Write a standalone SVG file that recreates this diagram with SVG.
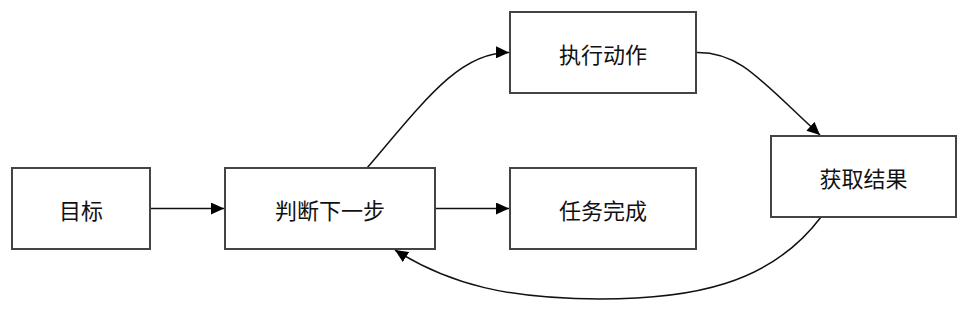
<svg xmlns="http://www.w3.org/2000/svg" width="969" height="313" viewBox="0 0 969 313">
<style>
.node rect{fill:#fff;stroke:#444;stroke-width:2}
.node text{font-family:"Noto Sans CJK SC","Noto Sans",sans-serif;font-size:22px;fill:#111;text-anchor:middle;dominant-baseline:central}
.edge{fill:none;stroke:#111;stroke-width:1.5}
</style>
<defs>
<marker id="arr" markerUnits="userSpaceOnUse" markerWidth="14" markerHeight="12" refX="13" refY="6" orient="auto">
<path d="M0,0 L13,6 L0,12 Z" fill="#000"/>
</marker>
</defs>
<rect width="969" height="313" fill="#fff"/>
<g id="connectors">
<path class="edge" d="M150,208.5 L224,208.5" marker-end="url(#arr)"/>
<path class="edge" d="M435,208.5 L509,208.5" marker-end="url(#arr)"/>
<path class="edge" d="M367,168 C425,100 460,52 509,52.5" marker-end="url(#arr)"/>
<path class="edge" d="M697,52.5 C740,52 760,80 820,135" marker-end="url(#arr)"/>
<path class="edge" d="M821,217 C770,285 690,299 600,299 C510,299 450,285 395,250" marker-end="url(#arr)"/>
</g>
<g id="node-goal" class="node"><rect x="12" y="168" width="138" height="81"/><text x="81" y="208.5">目标</text></g>
<g id="node-decide" class="node"><rect x="225" y="168" width="210" height="81"/><text x="330" y="208.5">判断下一步</text></g>
<g id="node-act" class="node"><rect x="510" y="12" width="186" height="81"/><text x="603" y="52.5">执行动作</text></g>
<g id="node-done" class="node"><rect x="510" y="168" width="186" height="81"/><text x="603" y="208.5">任务完成</text></g>
<g id="node-result" class="node"><rect x="771" y="136" width="185" height="81"/><text x="863.5" y="176.5">获取结果</text></g>
</svg>
